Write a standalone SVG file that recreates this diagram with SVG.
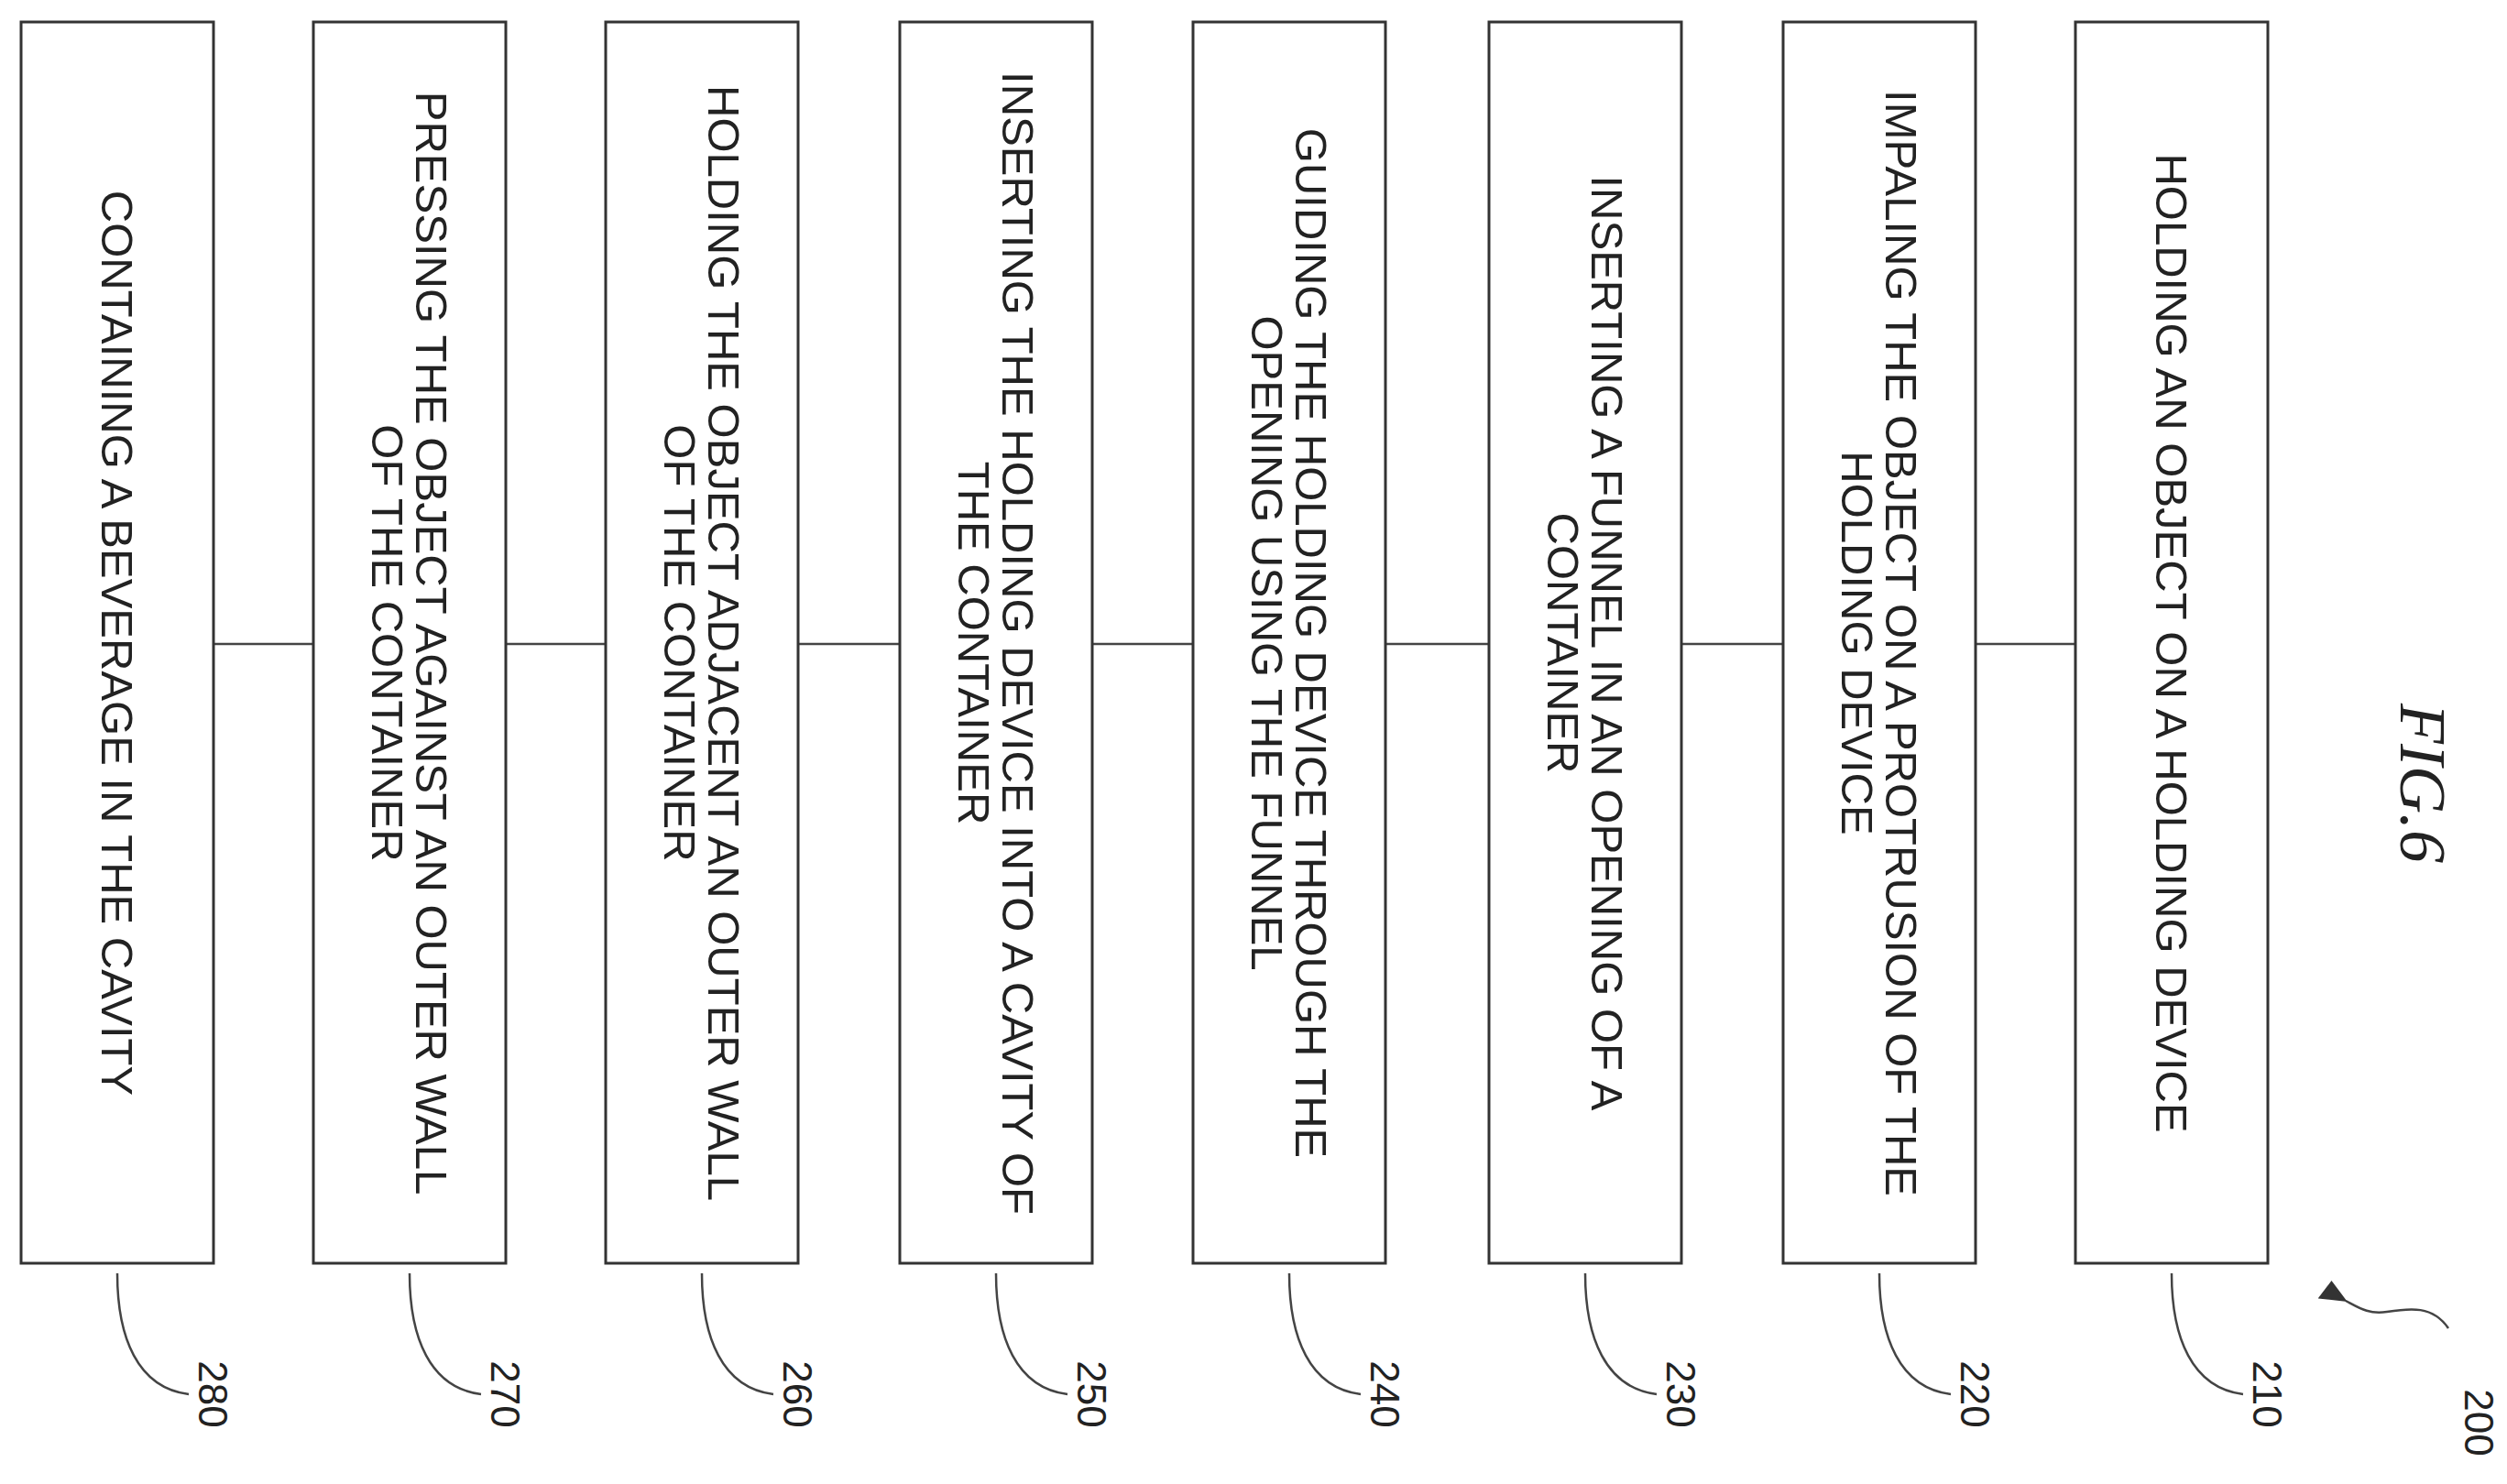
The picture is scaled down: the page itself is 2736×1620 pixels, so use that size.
<svg xmlns="http://www.w3.org/2000/svg" width="2736" height="1620" viewBox="0 0 2736 1620">
<style>
rect.b{fill:#fff;stroke:#333;stroke-width:3}
.t{font-family:"Liberation Sans",Arial,sans-serif;font-size:49px;fill:#222;text-anchor:middle;dominant-baseline:central}
.n{font-family:"Liberation Sans",Arial,sans-serif;font-size:44px;fill:#222;text-anchor:middle;dominant-baseline:central}
.l{fill:none;stroke:#444;stroke-width:2.5}
</style>
<rect width="2736" height="1620" fill="#fff"/>
<defs><marker id="ah" markerWidth="30" markerHeight="24" refX="2" refY="12" orient="auto" markerUnits="userSpaceOnUse" viewBox="0 0 30 24"><path d="M0,12 L30,0 L26,24 Z" fill="#333"/></marker></defs>
<g id="connectors">
<path class="l" d="M233,703H342M552,703H661M871,703H982M1192,703H1302M1512,703H1625M1835,703H1946M2156,703H2265"/>
<path class="l" d="M128,1390C128,1460 150,1515 206,1522M447,1390C447,1460 469,1515 525,1522M766,1390C766,1460 788,1515 844,1522M1087,1390C1087,1460 1109,1515 1165,1522M1407,1390C1407,1460 1429,1515 1485,1522M1730,1390C1730,1460 1752,1515 1808,1522M2051,1390C2051,1460 2073,1515 2129,1522M2370,1390C2370,1460 2392,1515 2448,1522"/>
<path class="l" d="M2672,1450C2655,1425 2630,1428 2605,1432C2585,1435 2575,1428 2560,1420" marker-end="url(#ah)"/>
</g>
<g id="n280"><rect class="b" x="23" y="24" width="210" height="1355"/><text class="t" transform="translate(128,702) rotate(90)">CONTAINING A BEVERAGE IN THE CAVITY</text><text class="n" transform="translate(232,1522) rotate(90)">280</text></g>
<g id="n270"><rect class="b" x="342" y="24" width="210" height="1355"/><text class="t" transform="translate(447,702) rotate(90)"><tspan x="0" y="-24">PRESSING THE OBJECT AGAINST AN OUTER WALL</tspan><tspan x="0" y="24">OF THE CONTAINER</tspan></text><text class="n" transform="translate(551,1522) rotate(90)">270</text></g>
<g id="n260"><rect class="b" x="661" y="24" width="210" height="1355"/><text class="t" transform="translate(766,702) rotate(90)"><tspan x="0" y="-24">HOLDING THE OBJECT ADJACENT AN OUTER WALL</tspan><tspan x="0" y="24">OF THE CONTAINER</tspan></text><text class="n" transform="translate(870,1522) rotate(90)">260</text></g>
<g id="n250"><rect class="b" x="982" y="24" width="210" height="1355"/><text class="t" transform="translate(1087,702) rotate(90)"><tspan x="0" y="-24">INSERTING THE HOLDING DEVICE INTO A CAVITY OF</tspan><tspan x="0" y="24">THE CONTAINER</tspan></text><text class="n" transform="translate(1191,1522) rotate(90)">250</text></g>
<g id="n240"><rect class="b" x="1302" y="24" width="210" height="1355"/><text class="t" transform="translate(1407,702) rotate(90)"><tspan x="0" y="-24">GUIDING THE HOLDING DEVICE THROUGH THE</tspan><tspan x="0" y="24">OPENING USING THE FUNNEL</tspan></text><text class="n" transform="translate(1511,1522) rotate(90)">240</text></g>
<g id="n230"><rect class="b" x="1625" y="24" width="210" height="1355"/><text class="t" transform="translate(1730,702) rotate(90)"><tspan x="0" y="-24">INSERTING A FUNNEL IN AN OPENING OF A</tspan><tspan x="0" y="24">CONTAINER</tspan></text><text class="n" transform="translate(1834,1522) rotate(90)">230</text></g>
<g id="n220"><rect class="b" x="1946" y="24" width="210" height="1355"/><text class="t" transform="translate(2051,702) rotate(90)"><tspan x="0" y="-24">IMPALING THE OBJECT ON A PROTRUSION OF THE</tspan><tspan x="0" y="24">HOLDING DEVICE</tspan></text><text class="n" transform="translate(2155,1522) rotate(90)">220</text></g>
<g id="n210"><rect class="b" x="2265" y="24" width="210" height="1355"/><text class="t" transform="translate(2370,702) rotate(90)">HOLDING AN OBJECT ON A HOLDING DEVICE</text><text class="n" transform="translate(2474,1522) rotate(90)">210</text></g>
<g id="fig"><text transform="translate(2644,855) rotate(90)" style="font-family:'Liberation Serif',serif;font-style:italic;font-size:72px;fill:#222;text-anchor:middle;dominant-baseline:central">FIG.6</text><text class="n" transform="translate(2705,1553) rotate(90)">200</text></g>
</svg>
